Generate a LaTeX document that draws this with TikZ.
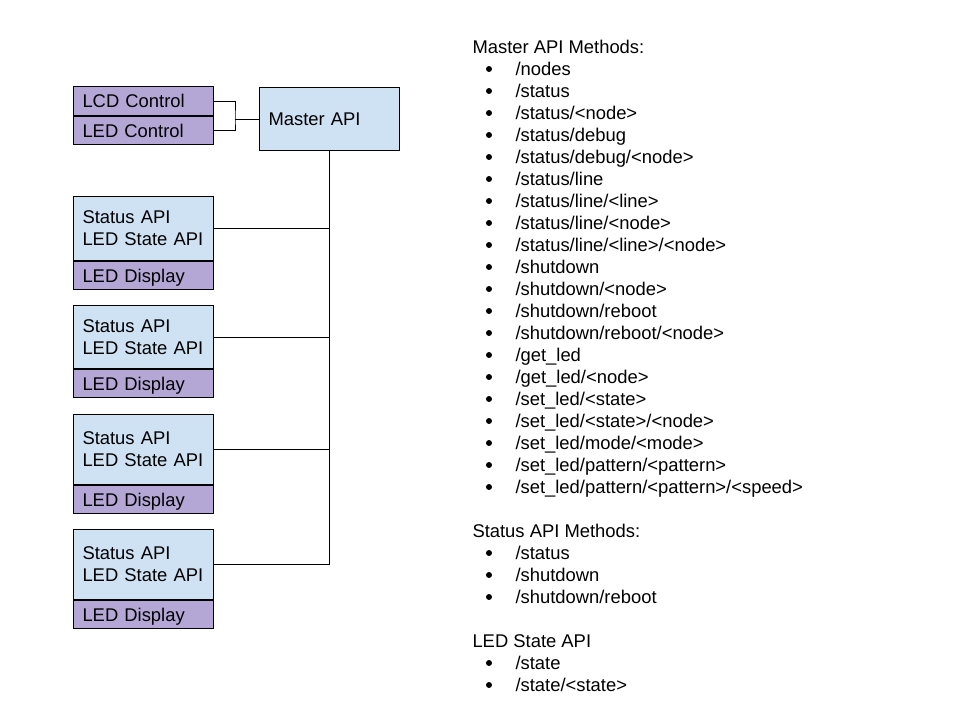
\documentclass[tikz,border=0pt]{standalone}
\usepackage{fontspec}
\setmainfont{Liberation Sans}
\usetikzlibrary{positioning}
\definecolor{apiblue}{HTML}{CFE2F3}
\definecolor{ctrlpurple}{HTML}{B4A7D6}
\begin{document}
\begin{tikzpicture}[x=1pt,y=-1pt,line width=1pt,
  font=\fontsize{18.4pt}{22pt}\selectfont,
  box/.style={draw=black,rectangle,text width=122pt,inner xsep=9pt,inner ysep=0pt,align=left},
  oneline/.style={box,text height=13.2pt,text depth=0pt},
  apibox/.style={fill=apiblue},
  ctrlbox/.style={fill=ctrlpurple},
  bul/.style={circle,fill=black,inner sep=0pt,minimum size=6pt},
  item/.style={anchor=base west,inner sep=0pt}]
\useasboundingbox (0,0) rectangle (960,720);
\node[oneline,ctrlbox,minimum height=29pt,anchor=north west] (lcd) at (73,86) {LCD Control};
\node[oneline,ctrlbox,minimum height=28pt,below=0pt of lcd] (led) {LED Control};
\node[oneline,apibox,minimum height=63pt,anchor=north west] (master) at (259,87) {Master API};
\draw (master.west) -- ++(-24,0) coordinate (jn);
\draw (lcd.east) -| (jn) |- (led.east);
\foreach \ytop/\hgt [count=\i] in {196/64,305/63,414/70,529/70}{
  \node[box,apibox,minimum height=\hgt pt,anchor=north west] (stat\i) at (73,\ytop) {Status API\\LED State API};
  \node[oneline,ctrlbox,minimum height=28pt,below=0pt of stat\i] (disp\i) {LED Display};
  \draw (stat\i.east) -- (stat\i.east -| master.south);
}
\draw (master.south) -- (master.south |- stat4.east);
\node[item] (mhead) at (472,53.5) {Master API Methods:};
\foreach \txt [count=\k] in {/nodes,/status,/status/<node>,/status/debug,/status/debug/<node>,
  /status/line,/status/line/<line>,/status/line/<node>,/status/line/<line>/<node>,/shutdown,
  /shutdown/<node>,/shutdown/reboot,/shutdown/reboot/<node>,/get\_led,/get\_led/<node>,
  /set\_led/<state>,/set\_led/<state>/<node>,/set\_led/mode/<mode>,/set\_led/pattern/<pattern>,
  /set\_led/pattern/<pattern>/<speed>}{
  \node[bul] (mb\k) at (489,{53.5+22*\k-6.5}) {};
  \node[item] (m\k) at (515,{53.5+22*\k}) {\txt};
}
\node[item] (shead) at (472,{53.5+22*22}) {Status API Methods:};
\foreach \txt [count=\k from 23] in {/status,/shutdown,/shutdown/reboot}{
  \node[bul] (sb\k) at (489,{53.5+22*\k-6.5}) {};
  \node[item] (s\k) at (515,{53.5+22*\k}) {\txt};
}
\node[item] (lhead) at (472,{53.5+22*27}) {LED State API};
\foreach \txt [count=\k from 28] in {/state,/state/<state>}{
  \node[bul] (lb\k) at (489,{53.5+22*\k-6.5}) {};
  \node[item] (l\k) at (515,{53.5+22*\k}) {\txt};
}
\end{tikzpicture}
\end{document}
